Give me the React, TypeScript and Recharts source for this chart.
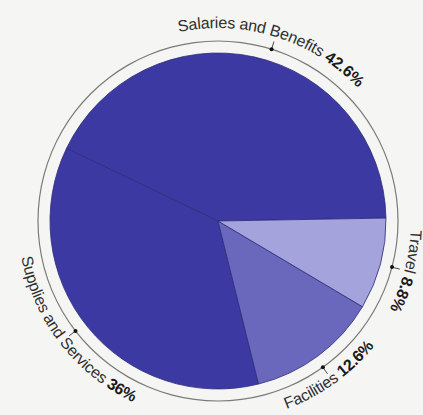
import React from "react";
import { PieChart, Pie, Cell } from "recharts";

const categories = ["Salaries and Benefits", "Supplies and Services", "Facilities", "Travel"];
const percentValues = [42.6, 36, 12.6, 8.8];
const percentLabels = ["42.6%", "36%", "12.6%", "8.8%"];
const sliceColors = ["#3c3aa2", "#3c3aa2", "#6a68bd", "#a5a3dc"];

const data = categories.map((name, i) => ({ name, value: percentValues[i], pct: percentLabels[i] }));

const ringData = [{ name: "ring", value: 1 }];

const labelNudge: Record<string, number> = {
  "Salaries and Benefits": -5,
  "Supplies and Services": -1.5,
  Facilities: -1,
};

const RAD = Math.PI / 180;
const RING_R = 180;

function pt(cx: number, cy: number, r: number, deg: number) {
  return [cx + r * Math.cos(deg * RAD), cy - r * Math.sin(deg * RAD)];
}

const renderLabel = (props: any) => {
  const { cx, cy, midAngle, index, name, payload } = props;
  const a = midAngle + (labelNudge[name] ?? 0);
  const [dx, dy] = pt(cx, cy, RING_R, a);
  const [tx, ty] = pt(cx, cy, RING_R + 8, a);
  const bottom = Math.sin(a * RAD) < -0.4;
  const id = `lblpath-${index}`;
  let d: string;
  if (!bottom) {
    const r = 193;
    const [x1, y1] = pt(cx, cy, r, a + 80);
    const [x2, y2] = pt(cx, cy, r, a - 80);
    d = `M ${x1} ${y1} A ${r} ${r} 0 0 1 ${x2} ${y2}`;
  } else {
    const r = 200;
    const [x1, y1] = pt(cx, cy, r, a - 80);
    const [x2, y2] = pt(cx, cy, r, a + 80);
    d = `M ${x1} ${y1} A ${r} ${r} 0 0 0 ${x2} ${y2}`;
  }
  const pct = payload?.pct ?? percentLabels[index];
  return (
    <g key={id}>
      <line x1={dx} y1={dy} x2={tx} y2={ty} stroke="#333" strokeWidth={0.9} />
      <circle cx={dx} cy={dy} r={2} fill="#111" />
      <path id={id} d={d} fill="none" stroke="none" />
      <text
        fontFamily="'Liberation Sans', Arial, sans-serif"
        fontSize={16}
        letterSpacing={-0.2}
        fill="#2f2f2f"
      >
        <textPath href={`#${id}`} startOffset="50%" textAnchor="middle">
          {name}{" "}
          <tspan fontWeight="bold" fill="#1a1a1a">{pct}</tspan>
        </textPath>
      </text>
    </g>
  );
};

export default function App() {
  return (
    <div
      style={{
        position: "fixed",
        left: 0,
        top: 0,
        width: 423,
        height: 415,
        background: "#f5f5f3",
        overflow: "hidden",
      }}
    >
      <PieChart width={423} height={415} margin={{ top: 0, right: 0, bottom: 0, left: 0 }}>
        <Pie
          data={ringData}
          dataKey="value"
          cx={218}
          cy={221}
          innerRadius={RING_R - 0.6}
          outerRadius={RING_R + 0.6}
          startAngle={0}
          endAngle={360}
          fill="#7a7a7a"
          stroke="none"
          isAnimationActive={false}
          label={false}
          labelLine={false}
        />
        <Pie
          data={data}
          dataKey="value"
          nameKey="name"
          cx={218}
          cy={221}
          outerRadius={168}
          startAngle={1}
          endAngle={361}
          stroke="#2c2b78"
          strokeWidth={0.8}
          isAnimationActive={false}
          labelLine={false}
          label={renderLabel}
        >
          {data.map((d, i) => (
            <Cell key={d.name} fill={sliceColors[i]} />
          ))}
        </Pie>
      </PieChart>
    </div>
  );
}
